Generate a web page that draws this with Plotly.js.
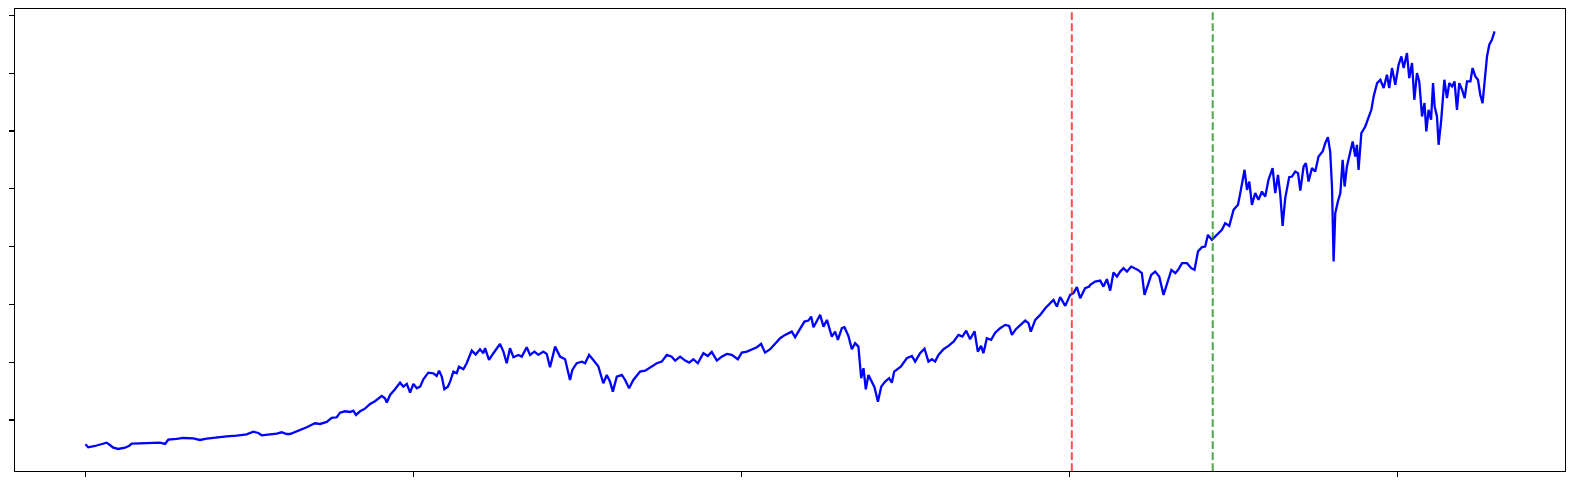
<!DOCTYPE html>
<html>
<head>
<meta charset="utf-8">
<script src="https://cdn.plot.ly/plotly-3.0.1.min.js"></script>
<style>
  html, body { margin: 0; padding: 0; background: #ffffff; }
  #chart { width: 1574px; height: 486px; }
</style>
</head>
<body>
<div id="chart"></div>
<script>
// Trading-day index (x) of each sampled point
const dayIndex = [
  0, 17, 58, 99, 129, 149, 170, 200, 241, 267, 282, 332, 393, 454, 485, 505, 556, 596, 657, 698,
  739, 800, 861, 922, 983, 1023, 1054, 1074, 1105, 1135, 1166, 1196, 1227,
  1247, 1298, 1349, 1399, 1430, 1471, 1501, 1532, 1552, 1582, 1613, 1633, 1649, 1674, 1704, 1735, 1765, 1806,
  1826, 1837, 1857, 1887, 1918, 1938, 1959, 1979, 1999, 2020, 2040, 2060, 2090, 2121, 2141, 2156, 2172, 2188,
  2209, 2223, 2243, 2263, 2277, 2304, 2324, 2355, 2379, 2405, 2426, 2436,
  2460, 2487, 2527, 2548, 2568, 2588, 2609, 2639, 2660, 2690, 2710, 2737, 2761, 2791, 2812, 2832, 2863, 2893,
  2924, 2954, 2968, 2995, 3026, 3046, 3070, 3096, 3127, 3157, 3178, 3198, 3215, 3239, 3270, 3290, 3314, 3340,
  3381, 3412, 3442, 3483, 3513, 3544, 3574, 3595, 3625, 3656, 3680,
  3706, 3733, 3767, 3794, 3818, 3849, 3879, 3910, 3940, 3977, 4001, 4032, 4062, 4093, 4119, 4143, 4174, 4204,
  4235, 4265, 4306, 4326, 4357, 4383, 4407, 4424, 4438, 4459, 4479, 4499, 4520, 4550, 4570, 4587, 4611, 4627,
  4651, 4672, 4692, 4712, 4729, 4743, 4757, 4773, 4794, 4810, 4831, 4851, 4875, 4899,
  4916, 4930, 4970, 5007, 5038, 5058, 5088, 5115, 5139, 5160, 5180, 5200, 5231, 5261, 5292, 5322, 5346, 5369,
  5393, 5420, 5440, 5460, 5474, 5495, 5521, 5546, 5576, 5607, 5631, 5648, 5672, 5704, 5729, 5749, 5763, 5790,
  5820, 5851, 5881, 5901, 5922, 5942, 5973, 6003, 6023, 6044, 6064, 6094, 6119,
  6125, 6155, 6186, 6206, 6227, 6247, 6267, 6288, 6308, 6328, 6349, 6375, 6395, 6416, 6440, 6456, 6477, 6497,
  6521, 6546, 6572, 6593, 6620, 6644, 6664, 6685, 6715, 6741, 6761, 6782, 6806, 6826, 6843, 6867, 6898, 6928,
  6948, 6973, 6999, 7026, 7040, 7066, 7081, 7095, 7111, 7131, 7151, 7172, 7192, 7212, 7237, 7253, 7270, 7284,
  7298, 7314, 7338,
  7355, 7375, 7392, 7406, 7426, 7440, 7456, 7477, 7497, 7517, 7542, 7558, 7574, 7588, 7599, 7609, 7619, 7635,
  7650, 7664, 7676, 7690, 7711, 7725, 7741, 7751, 7761, 7778, 7802, 7822, 7839, 7853, 7874, 7894, 7914, 7934,
  7948, 7965, 7985, 8005, 8022, 8036, 8056, 8070, 8087, 8101, 8117, 8131, 8148, 8163, 8174, 8188, 8203, 8215,
  8225, 8239, 8249, 8265, 8284, 8300, 8314, 8331, 8346, 8361, 8375, 8392, 8408, 8422, 8443, 8456, 8473, 8489,
  8503, 8517, 8529, 8544, 8558, 8574, 8590
];

// Closing values
const closeValues = [
  2897, 2637, 2749, 2923, 3035, 2836, 2602, 2490, 2602, 2775, 2949, 2983, 3035, 3035, 2923, 3295, 3355, 3442, 3416, 3269,
  3381, 3503, 3589, 3641, 3762, 3987, 3875, 3676, 3728, 3762, 3814, 3935, 3788,
  3788, 4074, 4368, 4715, 4654, 4827, 5173, 5234, 5632, 5753, 5693, 5805, 5433, 5753, 5978, 6385, 6619, 7078,
  6879, 6498, 7165, 7658, 8229, 7883, 8117, 7364, 8117, 7745, 7883, 8524, 9095, 9043, 8809, 9268, 8749, 7658,
  7883, 8316, 9182, 9043, 9614, 9389, 9909, 10999, 10653, 11121, 10775, 11207,
  10194, 10775, 11580, 10913, 9909, 11207, 10428, 10627, 10480, 11294, 10627, 10913, 10627, 10913, 10714, 9563, 11346, 10480,
  10255, 8463, 9329, 9909, 10047, 9909, 10627, 10194, 9614, 8177, 8896, 8316, 7450, 8749, 8896, 8463, 7745, 8463,
  9182, 9268, 9563, 9909, 10047, 10627, 10480, 10134, 10480, 10134, 9961,
  10255, 9909, 10775, 10541, 10887, 10134, 10480, 10714, 10627, 10255, 10826, 10913, 11121, 11294, 11580, 10826, 11121, 11580,
  12073, 12359, 12644, 12160, 12939, 13510, 13597, 13943, 13025, 13597, 14090, 13077, 13657, 12212, 12644, 11926, 12939, 13025,
  12272, 11121, 11640, 11346, 8610, 9476, 7658, 8896, 8316, 7831, 6585, 7883, 8316, 8610,
  8229, 9182, 9614, 10342, 10541, 10047, 10775, 11173, 10047, 10255, 10047, 10627, 11121, 11406, 11779, 12359, 12212, 12731,
  11986, 12679, 10913, 11406, 10775, 12073, 11926, 12558, 12939, 13224, 13138, 12359, 12852, 13224, 13597, 13372, 12644, 13657,
  14090, 14670, 15103, 15389, 14809, 15622, 14869, 15822, 15969, 16488, 15536, 16402, 16540,
  16687, 16973, 17059, 16540, 17181, 16194, 17752, 17406, 17838, 18133, 17838, 18271, 18133, 17986, 17700, 15822, 16687, 17553,
  17838, 17406, 15822, 16834, 17986, 17700, 18046, 18566, 18566, 18133, 17986, 19570, 19951, 20003, 21016, 20583, 21016, 21449,
  22029, 21795, 23180, 23613, 24626, 26643, 24912, 25630, 23613, 24626, 24046, 24764, 24331, 25777, 26790, 24626, 26210, 24479,
  21795, 24193, 26011,
  26063, 26496, 26357, 24851, 26929, 27223, 25630, 26790, 26496, 27794, 28227, 28954, 29474, 28227, 25197, 18704, 22894, 23898,
  24626, 27509, 25197, 26929, 28089, 29093, 27794, 28807, 26643, 29820, 30391, 31119, 31837, 32988, 34148, 34434, 33715, 34867,
  33715, 35447, 34001, 35732, 36451, 35447, 36746, 34581, 35880, 32703, 35014, 34287, 31257, 32417, 29958, 31837, 30971, 34148,
  32123, 31257, 28807, 30971, 34434, 32850, 34148, 33854, 34287, 31837, 34148, 33569, 32850, 34287, 34287, 35447, 34720, 34434,
  33136, 32417, 34148, 36451, 37464, 37896, 38615
];

// Split positions (trading-day index): train/validation and validation/test boundaries
const splitIndices = [6013, 6872];
const splitColors = ['rgba(255,0,0,0.7)', 'rgba(0,128,0,0.7)'];

// Tick positions (no labels shown)
const xTickVals = [0, 2000, 4000, 6000, 8000];
const yTickVals = [5000, 10000, 15000, 20000, 25000, 30000, 35000, 40000];

const trace = {
  x: dayIndex,
  y: closeValues,
  type: 'scatter',
  mode: 'lines',
  line: { color: '#0000ff', width: 2.3 },
  hoverinfo: 'skip'
};

const shapes = splitIndices.map((xi, i) => ({
  type: 'line',
  xref: 'x', yref: 'paper',
  x0: xi, x1: xi, y0: 0, y1: 1,
  line: { color: splitColors[i], width: 2, dash: '7.7px,3.3px' }
}));

const axisCommon = {
  showline: true,
  mirror: true,
  linecolor: '#000000',
  linewidth: 1.1,
  ticks: 'outside',
  ticklen: 5,
  tickwidth: 1.1,
  tickcolor: '#000000',
  showticklabels: false,
  showgrid: false,
  zeroline: false
};

const layout = {
  width: 1574,
  height: 486,
  margin: { l: 15, r: 9, t: 9, b: 15, pad: 0 },
  paper_bgcolor: '#ffffff',
  plot_bgcolor: '#ffffff',
  showlegend: false,
  xaxis: Object.assign({}, axisCommon, {
    range: [-429.5, 9019.5],
    tickmode: 'array',
    tickvals: xTickVals
  }),
  yaxis: Object.assign({}, axisCommon, {
    range: [585, 40556],
    tickmode: 'array',
    tickvals: yTickVals
  }),
  shapes: shapes
};

Plotly.newPlot('chart', [trace], layout, { staticPlot: true, displayModeBar: false });
</script>
</body>
</html>
